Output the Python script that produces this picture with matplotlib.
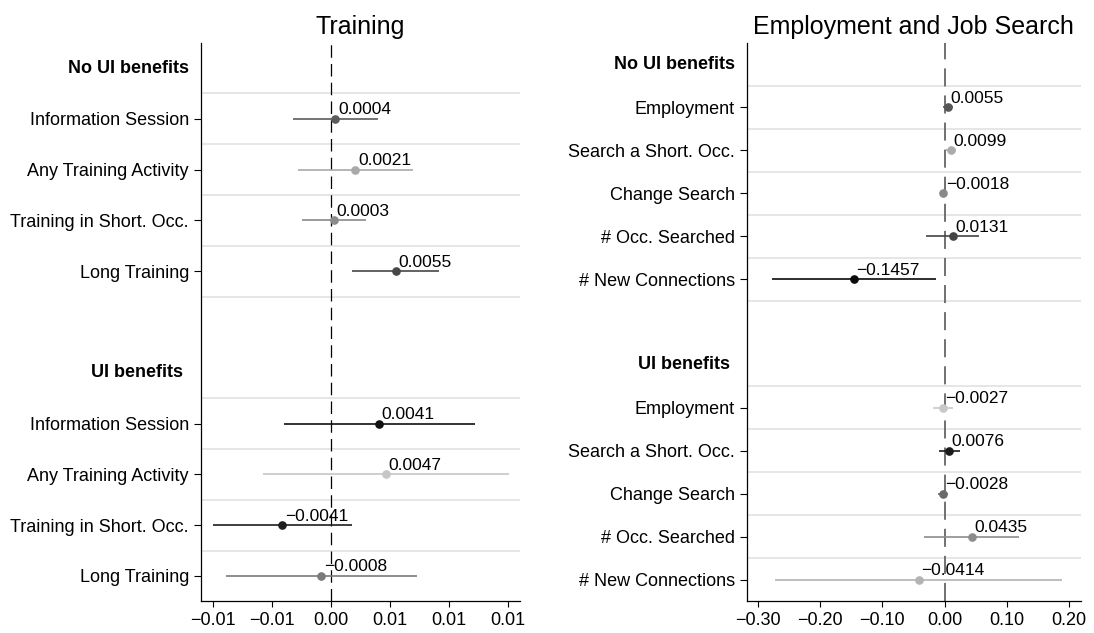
import matplotlib
matplotlib.use("Agg")
import matplotlib.pyplot as plt
from matplotlib.transforms import offset_copy

plt.rcParams['font.family'] = ['Liberation Sans', 'DejaVu Sans']

# ---------------- data ----------------
train_items = ["Information Session", "Any Training Activity",
               "Training in Short. Occ.", "Long Training"]
train_noui = [0.0004, 0.0021, 0.0003, 0.0055]
train_noui_lo = [-0.0032, -0.0028, -0.0024, 0.0018]
train_noui_hi = [0.0040, 0.0070, 0.0030, 0.0092]
train_ui = [0.0041, 0.0047, -0.0041, -0.0008]
train_ui_lo = [-0.0040, -0.0057, -0.0100, -0.0089]
train_ui_hi = [0.0122, 0.0151, 0.0018, 0.0073]

emp_items = ["Employment", "Search a Short. Occ.", "Change Search",
             "# Occ. Searched", "# New Connections"]
emp_noui = [0.0055, 0.0099, -0.0018, 0.0131, -0.1457]
emp_noui_lo = [-0.0025, 0.0015, -0.0045, -0.0295, -0.2780]
emp_noui_hi = [0.0135, 0.0183, 0.0009, 0.0557, -0.0134]
emp_ui = [-0.0027, 0.0076, -0.0028, 0.0435, -0.0414]
emp_ui_lo = [-0.0190, -0.0090, -0.0110, -0.0330, -0.2720]
emp_ui_hi = [0.0136, 0.0242, 0.0054, 0.1200, 0.1890]

group_names = ["No UI benefits", "UI benefits"]

train_ticks = [-0.01, -0.005, 0.0, 0.005, 0.01, 0.015]
train_ticklabels = ["\u22120.01", "\u22120.01", "0.00", "0.01", "0.01", "0.01"]
emp_ticks = [-0.30, -0.20, -0.10, 0.0, 0.10, 0.20]
emp_ticklabels = ["\u22120.30", "\u22120.20", "\u22120.10", "0.00", "0.10", "0.20"]

# marker / interval shades per row
train_colors_noui = ["#5c5c5c", "#a9a9a9", "#8a8a8a", "#474747"]
train_colors_ui = ["#111111", "#c6c6c6", "#1e1e1e", "#7a7a7a"]
emp_colors_noui = ["#555555", "#ababab", "#8a8a8a", "#444444", "#0a0a0a"]
emp_colors_ui = ["#c8c8c8", "#1a1a1a", "#6a6a6a", "#8c8c8c", "#b3b3b3"]

FS = 13
W, H = 1094, 633
fig = plt.figure(figsize=(W / 100, H / 100), dpi=100)


def fmt(v):
    return f"{v:.4f}".replace("-", "\u2212")


def panel(rect, title, items, blocks, ticks, ticklabels, xlim,
          zero_color, zero_lw, header_off):
    ax = fig.add_axes(rect)
    n = len(items)
    # slot layout: header, items, blank, header, items
    first = list(range(1, n + 1))
    second = list(range(n + 3, 2 * n + 3))
    total = 2 * n + 3
    ax.set_ylim(total - 0.5, -0.5)
    ax.set_xlim(*xlim)

    # separators around every item row
    seps = sorted(set([p - 0.5 for p in first + second] +
                      [p + 0.5 for p in first + second]))
    for s in seps:
        if s < total - 0.5:
            ax.axhline(s, color="#e6e6e6", lw=1.4, zorder=0)

    ax.axvline(0, color=zero_color, lw=zero_lw, dashes=(10, 5), zorder=1)

    for pos, (vals, lo, hi, cols) in zip([first, second], blocks):
        for y, v, l, h, c in zip(pos, vals, lo, hi, cols):
            ax.hlines(y, l, h, color=c, lw=1.2, zorder=2)
            ax.plot(v, y, "o", color=c, ms=5.2, zorder=3)
            ax.annotate(fmt(v), (v, y), xytext=(1.8, 3.2),
                        textcoords="offset points", ha="left",
                        va="baseline", fontsize=12.5, color="black",
                        zorder=4)

    ax.set_yticks(first + second)
    ax.set_yticklabels(items + items, fontsize=FS)
    ax.set_xticks(ticks)
    ax.set_xticklabels(ticklabels, fontsize=FS)
    ax.tick_params(axis="y", length=5, width=0.8, pad=3.5)
    ax.tick_params(axis="x", length=4.5, width=0.8, pad=3.5)

    for sp in ["top", "right"]:
        ax.spines[sp].set_visible(False)
    for sp in ["left", "bottom"]:
        ax.spines[sp].set_linewidth(0.9)

    ytr = ax.get_yaxis_transform()
    for ypos, name, off in zip([0, n + 2], group_names, header_off):
        ax.text(0, ypos, name, fontsize=FS, fontweight="bold",
                ha="right", va="center",
                transform=offset_copy(ytr, fig=fig, x=-off, y=0,
                                      units="points"))

    ax.set_title(title, fontsize=18, pad=6.5)
    return ax


# left panel: training outcomes
lx0, lx1 = 200.7, 520.0
ytop, ybot = 42.7, 601.3
tz = 330.7
tscale = 11800.0
panel([lx0 / W, 1 - ybot / H, (lx1 - lx0) / W, (ybot - ytop) / H],
      "Training", train_items,
      [(train_noui, train_noui_lo, train_noui_hi, train_colors_noui),
       (train_ui, train_ui_lo, train_ui_hi, train_colors_ui)],
      train_ticks, train_ticklabels,
      ((lx0 - tz) / tscale, (lx1 - tz) / tscale),
      "black", 0.9, [8.6, 12.4])

# right panel: employment and job search outcomes
rx0, rx1 = 746.5, 1080.5
ez = 944.6
escale = 622.0
panel([rx0 / W, 1 - ybot / H, (rx1 - rx0) / W, (ybot - ytop) / H],
      "Employment and Job Search", emp_items,
      [(emp_noui, emp_noui_lo, emp_noui_hi, emp_colors_noui),
       (emp_ui, emp_ui_lo, emp_ui_hi, emp_colors_ui)],
      emp_ticks, emp_ticklabels,
      ((rx0 - ez) / escale, (rx1 - ez) / escale),
      "#666666", 1.3, [8.4, 12.2])

fig.savefig("out.png", dpi=100)
